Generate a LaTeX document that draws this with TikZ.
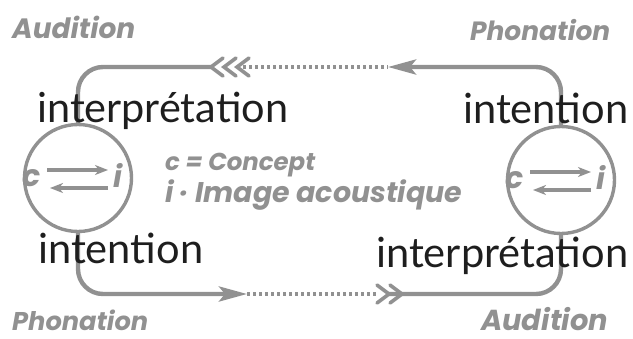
\documentclass[tikz,border=0pt]{standalone}
\usepackage{fontspec}
\usepackage{graphicx}
\setmainfont{Lato}
\newfontfamily\labfont{Poppins}
\usetikzlibrary{arrows.meta}
\definecolor{ink}{RGB}{145,145,145}
\definecolor{txt}{RGB}{30,30,30}
\newcommand\fitw[2]{\resizebox{#1}{!}{#2}}
\begin{document}
\begin{tikzpicture}[x=1pt,y=-1pt,
  loop/.style={draw=ink, line width=4.4pt, rounded corners=25pt},
  dots/.style={draw=ink, line width=3.2pt, dash pattern=on 3.2pt off 2.8pt},
  ring/.style={circle, draw=ink, line width=3.4pt, minimum size=107pt, inner sep=0pt},
  lab/.style={text=ink, font=\labfont\bfseries\itshape, inner sep=0pt, anchor=base west, text depth=0pt},
  cil/.style={text=ink, font=\labfont\bfseries\itshape\fontsize{30}{30}\selectfont, inner sep=0pt},
  word/.style={text=txt, inner sep=0pt, anchor=base west},
  chev/.style={draw=ink, line width=3.6pt, line cap=round},
  inar/.style={draw=ink, line width=3.2pt, -{Stealth[length=13pt,width=10pt,inset=4pt]}},
  bigtip/.style={-{Stealth[length=28pt,width=15pt,inset=6pt]}},
]
\useasboundingbox (0,0) rectangle (633,338);
\fill[white] (0,0) rectangle (633,338);

% circles
\node[ring] (L) at (78,178) {};
\node[ring] (R) at (561,180) {};

% letters inside circles
\node[cil] (Lc) at ([shift={(-46pt,0pt)}]L.center) {c};
\node[cil] (Li) at ([shift={(40pt,3pt)}]L.center) {i};
\node[cil] (Rc) at ([shift={(-46pt,0pt)}]R.center) {c};
\node[cil] (Ri) at ([shift={(40pt,3pt)}]R.center) {i};
\draw[inar] ([shift={(-31pt,8pt)}]L.center) -- ([shift={(30pt,8pt)}]L.center);
\draw[inar] ([shift={(30pt,-10pt)}]L.center) -- ([shift={(-28pt,-10pt)}]L.center);
\draw[inar] ([shift={(-31pt,8pt)}]R.center) -- ([shift={(30pt,8pt)}]R.center);
\draw[inar] ([shift={(30pt,-10pt)}]R.center) -- ([shift={(-28pt,-10pt)}]R.center);

% top connector
\coordinate (t1) at (211,67);
\coordinate (t2) at (224,67);
\coordinate (t3) at (237,67);
\coordinate (t4) at (388,67);
\draw[loop] (L.north) |- (t1);
\draw[dots] (t3) -- (t4);
\draw[loop, bigtip] (R.north) |- (t4);
\foreach \c in {t1,t2,t3}
  \draw[chev] ([shift={(12pt,9pt)}]\c) -- (\c) -- ([shift={(12pt,-9pt)}]\c);

% bottom connector
\coordinate (b1) at (247,294);
\coordinate (b2) at (378,294);
\coordinate (b3) at (389,294);
\coordinate (b4) at (402,294);
\draw[loop, bigtip] (L.south) |- (b1);
\draw[dots] (b1) -- (b2);
\draw[loop] (R.south) |- (b3);
\foreach \c in {b3,b4}
  \draw[chev] ([shift={(-12pt,9pt)}]\c) -- (\c) -- ([shift={(-12pt,-9pt)}]\c);

% black words
\node[word] (w1) at (37,122) {\fitw{251pt}{interprétation}};
\node[word] (w2) at (463,123) {\fitw{165pt}{intention}};
\node[word] (w3) at (38,263) {\fitw{165pt}{intention}};
\node[word] (w4) at (376,267) {\fitw{252pt}{interprétation}};

% grey labels
\node[lab] (a1) at (12,38) {\fitw{123pt}{Audition}};
\node[lab] (p1) at (470,40) {\fitw{140pt}{Phonation}};
\node[lab] (p2) at (12,330) {\fitw{136pt}{Phonation}};
\node[lab] (a2) at (481,330) {\fitw{127pt}{Audition}};

% legend
\node[lab] (k1) at (165,170) {\fitw{150pt}{c = Concept}};
\node[lab] (k2) at (165,202) {\fitw{297pt}{i · Image acoustique}};
\end{tikzpicture}
\end{document}
